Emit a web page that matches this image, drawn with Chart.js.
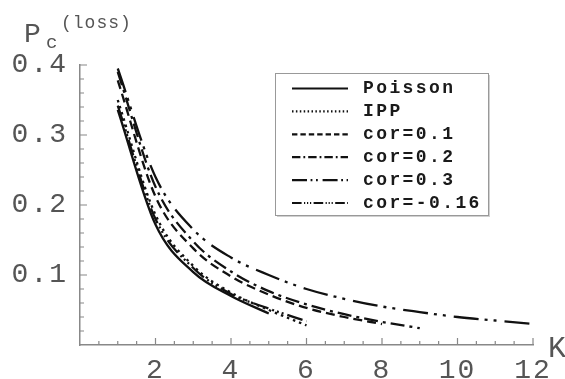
<!DOCTYPE html>
<html>
<head>
<meta charset="utf-8">
<script src="https://cdn.jsdelivr.net/npm/chart.js@4/dist/chart.umd.min.js"></script>
<style>
  html, body { margin: 0; padding: 0; background: #fff; }
  #wrap { width: 565px; height: 379px; }
</style>
</head>
<body>
<div id="wrap"><canvas id="lossChart" width="565" height="379"></canvas></div>
<script>
// K values (number of channels) and loss probability per traffic model
var kValues = [1, 2, 3, 4, 5, 6, 7, 8, 9, 10, 11, 12];
var poisson = [0.336, 0.172, 0.104, 0.070, 0.045];
var ipp = [0.350, 0.186, 0.113, 0.075, 0.050, 0.028];
var cor01 = [0.378, 0.212, 0.138, 0.098, 0.072, 0.053, 0.040, 0.030];
var cor02 = [0.390, 0.226, 0.148, 0.105, 0.077, 0.058, 0.044, 0.033, 0.024];
var cor03 = [0.395, 0.240, 0.165, 0.125, 0.100, 0.080, 0.066, 0.055, 0.047, 0.040, 0.035, 0.030];
var corNeg016 = [0.342, 0.180, 0.110, 0.073, 0.052, 0.034];
var seriesLabels = ['Poisson', 'IPP', 'cor=0.1', 'cor=0.2', 'cor=0.3', 'cor=-0.16'];
var yTickValues = [0.1, 0.2, 0.3, 0.4];
var xTickValues = [2, 4, 6, 8, 10, 12];

var seriesValues = [poisson, ipp, cor01, cor02, cor03, corNeg016];
var dashes = [[], [2.5, 4], [9, 5], [14, 5, 3, 5], [25, 6, 3, 6, 3, 8], [16, 4, 2, 3, 2, 3, 2, 4]];

function toPoints(values) {
    return values.map(function (v, i) { return {x: kValues[i], y: v}; });
}

var datasets = seriesValues.map(function (values, i) {
    return {
        label: seriesLabels[i],
        data: toPoints(values),
        borderColor: '#111',
        backgroundColor: '#111',
        borderWidth: 2.3,
        borderDash: dashes[i],
        pointRadius: 0,
        fill: false,
        cubicInterpolationMode: 'monotone'
    };
});

// inward minor/major ticks, axis titles and the boxed legend
var decorPlugin = {
    id: 'decor',
    beforeDraw: function (chart) {
        chart.ctx.letterSpacing = '2px';
    },
    afterDraw: function (chart) {
        var ctx = chart.ctx;
        var xs = chart.scales.x, ys = chart.scales.y;
        var area = chart.chartArea;
        ctx.save();
        ctx.letterSpacing = '0px';
        ctx.strokeStyle = '#888';
        ctx.lineWidth = 1.2;
        ctx.beginPath();
        for (var k = 1; k <= 24; k++) {
            var v = k * 0.5;
            var px = xs.getPixelForValue(v);
            var len = (v % 2 === 0) ? 7 : 4;
            ctx.moveTo(px, area.bottom);
            ctx.lineTo(px, area.bottom - len);
        }
        for (var j = 1; j <= 20; j++) {
            var yv = j * 0.02;
            var py = ys.getPixelForValue(yv);
            var ylen = (j % 5 === 0) ? 7 : 4;
            ctx.moveTo(area.left, py);
            ctx.lineTo(area.left + ylen, py);
        }
        ctx.stroke();

        // axis titles
        ctx.fillStyle = '#555';
        ctx.textBaseline = 'alphabetic';
        ctx.textAlign = 'left';
        ctx.font = '28px "Liberation Mono"';
        ctx.fillText('P', 24, 42);
        ctx.font = '19px "Liberation Mono"';
        ctx.fillText('c', 46, 48);
        ctx.letterSpacing = '1px';
        ctx.font = '18px "Liberation Mono"';
        ctx.fillText('(loss)', 61, 28);
        ctx.letterSpacing = '0px';
        ctx.font = '30px "Liberation Mono"';
        ctx.fillText('K', 548, 357);

        // legend
        var box = {left: 275, top: 73, right: 488, bottom: 215};
        ctx.fillStyle = '#d0d0d0';
        ctx.fillRect(box.left + 2, box.top + 2, box.right - box.left, box.bottom - box.top);
        ctx.fillStyle = '#fff';
        ctx.fillRect(box.left, box.top, box.right - box.left, box.bottom - box.top);
        ctx.strokeStyle = '#999';
        ctx.lineWidth = 1;
        ctx.strokeRect(box.left + 0.5, box.top + 0.5, box.right - box.left, box.bottom - box.top);

        ctx.font = 'bold 18px "Liberation Mono"';
        ctx.letterSpacing = '2.4px';
        ctx.textBaseline = 'middle';
        chart.data.datasets.forEach(function (ds, i) {
            var rowY = 88.5 + i * 22.9;
            ctx.strokeStyle = '#111';
            ctx.lineWidth = 2.2;
            ctx.setLineDash(ds.borderDash.map(function (d) { return d * 0.6; }));
            ctx.beginPath();
            ctx.moveTo(292, rowY);
            ctx.lineTo(348, rowY);
            ctx.stroke();
            ctx.setLineDash([]);
            ctx.fillStyle = '#1a1a1a';
            ctx.fillText(ds.label, 363, rowY);
        });
        ctx.restore();
    }
};

new Chart(document.getElementById('lossChart'), {
    type: 'line',
    data: {datasets: datasets},
    plugins: [decorPlugin],
    options: {
        responsive: false,
        animation: false,
        layout: {padding: {top: 65, right: 32, left: 0, bottom: 0}},
        plugins: {legend: {display: false}, tooltip: {enabled: false}},
        scales: {
            x: {
                type: 'linear',
                min: 0,
                max: 12,
                afterFit: function (scale) { scale.height = 34; },
                afterBuildTicks: function (scale) {
                    scale.ticks = xTickValues.map(function (v) { return {value: v}; });
                },
                grid: {display: false, drawTicks: false},
                border: {display: true, color: '#888', width: 1.5},
                ticks: {
                    padding: 9,
                    color: '#555',
                    maxRotation: 0,
                    font: {family: 'Liberation Mono', size: 28},
                    callback: function (v) { return String(v); }
                }
            },
            y: {
                min: 0,
                max: 0.4,
                afterFit: function (scale) { scale.width = 80; },
                afterBuildTicks: function (scale) {
                    scale.ticks = yTickValues.map(function (v) { return {value: v}; });
                },
                grid: {display: false, drawTicks: false},
                border: {display: true, color: '#888', width: 1.5},
                ticks: {
                    padding: 12,
                    color: '#555',
                    font: {family: 'Liberation Mono', size: 28},
                    callback: function (v) { return v.toFixed(1); }
                }
            }
        }
    }
});
</script>
</body>
</html>
